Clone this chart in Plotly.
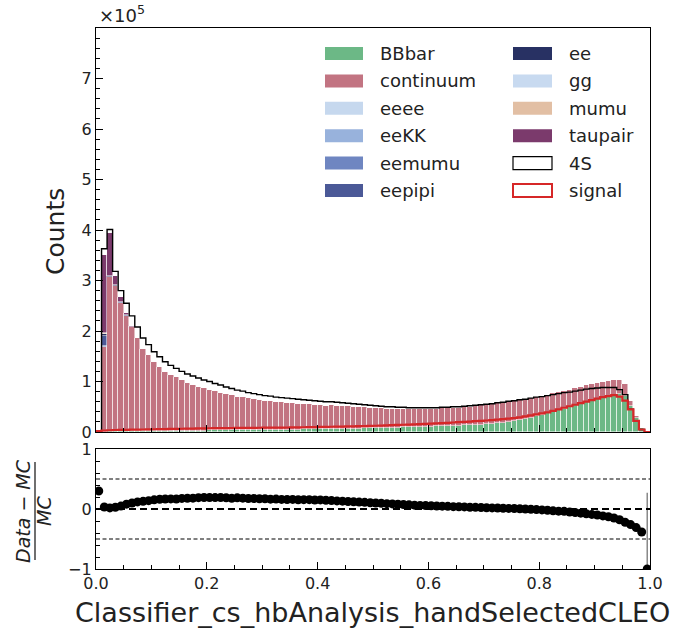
import plotly.graph_objects as go

# ---------------- data (counts in units of 1e5) ----------------
n_bins = 100
x_lo, x_hi = 0.0, 1.0

data_4S = [
    0.026, 3.63, 4.01, 3.18, 2.80, 2.55, 2.30, 2.08, 1.86, 1.73,
    1.59, 1.49, 1.39, 1.32, 1.26, 1.20, 1.15, 1.11, 1.07, 1.03,
    1.00, 0.96, 0.93, 0.89, 0.86, 0.83, 0.81, 0.78, 0.76, 0.74,
    0.72, 0.71, 0.69, 0.68, 0.67, 0.66, 0.65, 0.64, 0.63, 0.62,
    0.61, 0.60, 0.60, 0.59, 0.58, 0.57, 0.56, 0.55, 0.54, 0.53,
    0.52, 0.51, 0.50, 0.50, 0.49, 0.49, 0.48, 0.48, 0.48, 0.48,
    0.48, 0.48, 0.49, 0.49, 0.50, 0.50, 0.51, 0.52, 0.53, 0.54,
    0.55, 0.56, 0.58, 0.59, 0.61, 0.62, 0.64, 0.65, 0.67, 0.69,
    0.70, 0.72, 0.74, 0.76, 0.78, 0.79, 0.81, 0.83, 0.85, 0.86,
    0.87, 0.88, 0.88, 0.88, 0.84, 0.74, 0.45, 0.22, 0.05, 0.0,
]

bbbar = [
    0.0, 0.010, 0.012, 0.013, 0.014, 0.015, 0.016, 0.017, 0.018, 0.019,
    0.020, 0.021, 0.022, 0.023, 0.024, 0.025, 0.026, 0.027, 0.028, 0.029,
    0.030, 0.031, 0.032, 0.033, 0.034, 0.035, 0.036, 0.037, 0.038, 0.039,
    0.040, 0.041, 0.042, 0.043, 0.045, 0.046, 0.048, 0.050, 0.051, 0.053,
    0.055, 0.057, 0.059, 0.061, 0.063, 0.065, 0.067, 0.069, 0.071, 0.074,
    0.077, 0.079, 0.082, 0.085, 0.088, 0.091, 0.094, 0.097, 0.100, 0.104,
    0.108, 0.112, 0.116, 0.120, 0.124, 0.128, 0.132, 0.136, 0.140, 0.145,
    0.150, 0.160, 0.170, 0.185, 0.200, 0.220, 0.240, 0.260, 0.280, 0.310,
    0.340, 0.370, 0.400, 0.430, 0.460, 0.500, 0.540, 0.570, 0.600, 0.630,
    0.660, 0.690, 0.710, 0.740, 0.750, 0.720, 0.520, 0.280, 0.070, 0.004,
]

continuum = [
    0.015, 1.67, 3.05, 2.87, 2.546, 2.29, 2.054, 1.843, 1.632, 1.50,
    1.36, 1.26, 1.17, 1.107, 1.056, 0.995, 0.949, 0.913, 0.872, 0.836,
    0.81, 0.776, 0.748, 0.717, 0.696, 0.665, 0.65, 0.627, 0.609, 0.593,
    0.575, 0.569, 0.55, 0.543, 0.533, 0.523, 0.515, 0.504, 0.494, 0.486,
    0.475, 0.467, 0.467, 0.459, 0.45, 0.442, 0.433, 0.424, 0.415, 0.406,
    0.396, 0.387, 0.377, 0.376, 0.366, 0.365, 0.355, 0.354, 0.353, 0.35,
    0.347, 0.345, 0.352, 0.349, 0.357, 0.354, 0.361, 0.369, 0.376, 0.382,
    0.389, 0.39, 0.401, 0.398, 0.404, 0.395, 0.397, 0.39, 0.393, 0.387,
    0.371, 0.365, 0.363, 0.358, 0.352, 0.332, 0.322, 0.322, 0.324, 0.315,
    0.307, 0.304, 0.301, 0.295, 0.274, 0.229, 0.088, 0.039, 0.011, 0.001,
]

eeee = [0.0, 0.003, 0.002, 0.001] + [0.0] * 96
eeKK = [0.0, 0.003, 0.002, 0.001] + [0.0] * 96
eemumu = [0.0, 0.010, 0.003, 0.001] + [0.0] * 96
eepipi = [0.0, 0.200, 0.010, 0.010, 0.005, 0.003] + [0.0] * 94
ee = [0.001, 0.050, 0.005, 0.010, 0.005, 0.002] + [0.0] * 94
gg = [0.0, 0.003, 0.002, 0.001] + [0.0] * 96
mumu = [0.0, 0.005, 0.003, 0.002] + [0.0] * 96
taupair = [0.004, 1.56, 0.85, 0.18, 0.10, 0.05, 0.02] + [0.0] * 93

signal = [
    0.020, 0.030, 0.035, 0.040, 0.042, 0.044, 0.046, 0.048, 0.050, 0.052,
    0.054, 0.056, 0.058, 0.060, 0.062, 0.064, 0.066, 0.068, 0.070, 0.072,
    0.074, 0.076, 0.077, 0.078, 0.079, 0.080, 0.081, 0.082, 0.083, 0.084,
    0.085, 0.086, 0.087, 0.088, 0.089, 0.090, 0.092, 0.094, 0.096, 0.098,
    0.100, 0.102, 0.104, 0.106, 0.108, 0.110, 0.112, 0.115, 0.118, 0.121,
    0.124, 0.128, 0.132, 0.136, 0.140, 0.144, 0.148, 0.152, 0.157, 0.162,
    0.167, 0.172, 0.177, 0.182, 0.188, 0.194, 0.200, 0.207, 0.214, 0.220,
    0.228, 0.236, 0.245, 0.255, 0.265, 0.277, 0.290, 0.310, 0.330, 0.350,
    0.370, 0.390, 0.420, 0.450, 0.480, 0.510, 0.540, 0.570, 0.600, 0.630,
    0.660, 0.690, 0.710, 0.730, 0.700, 0.620, 0.450, 0.220, 0.050, 0.0,
]

# visible uncertainty on ratio (only the last bin's is large enough to see)
ratio_err = [0.0] * 99 + [1.27]

mc_names = ["BBbar", "continuum", "eeee", "eeKK", "eemumu", "eepipi",
            "ee", "gg", "mumu", "taupair"]
mc_values = [bbbar, continuum, eeee, eeKK, eemumu, eepipi, ee, gg, mumu, taupair]
mc_colors = ["#6cb886", "#c27482", "#c6d8ee", "#98b2dc", "#6f86c1", "#4b5997",
             "#283163", "#c8daf0", "#e2bfa4", "#7b3a6c"]

# ---------------- derived ----------------
bw = (x_hi - x_lo) / n_bins
edges = [x_lo + i * bw for i in range(n_bins + 1)]
centers = [x_lo + (i + 0.5) * bw for i in range(n_bins)]
mc_total = [sum(v[i] for v in mc_values) for i in range(n_bins)]
ratio = [(d - m) / m if m > 0 else None for d, m in zip(data_4S, mc_total)]

FONT = "DejaVu Sans"
W, H = 676, 629
ML, MR, MT, MB = 96, 26, 28, 60
PW, PH = W - ML - MR, H - MT - MB


def px(xp):
    return (xp - ML) / PW


def py(yp):
    return (H - MB - yp) / PH


main_bottom = py(432)
ratio_top = py(449)

fig = go.Figure()

for name, vals, col in zip(mc_names, mc_values, mc_colors):
    fig.add_trace(go.Bar(
        x=centers, y=vals, width=bw, name=name,
        marker=dict(color=col, line=dict(color="rgba(255,255,255,0.75)", width=0.7)),
        xaxis="x", yaxis="y", showlegend=False))

fig.add_trace(go.Scatter(
    x=[x_lo] + edges, y=[0] + data_4S + [0], mode="lines", name="4S",
    line=dict(color="black", width=1.4, shape="hv"), xaxis="x", yaxis="y",
    showlegend=False))
fig.add_trace(go.Scatter(
    x=[x_lo] + edges, y=[0] + signal + [0], mode="lines", name="signal",
    line=dict(color="#d62728", width=2.2, shape="hv"), xaxis="x", yaxis="y",
    showlegend=False))

fig.add_trace(go.Scatter(
    x=centers, y=ratio, mode="markers",
    marker=dict(color="black", size=9),
    error_y=dict(type="data", array=ratio_err, arrayminus=[0.0] * n_bins,
                 color="#888888", thickness=1.5, width=0),
    xaxis="x2", yaxis="y2", showlegend=False, cliponaxis=True))

# reference lines in ratio panel
fig.add_shape(type="line", xref="x2 domain", yref="y2", x0=0, x1=1, y0=0, y1=0,
              line=dict(color="black", width=2, dash="7px,4px"))
for yv in (0.5, -0.5):
    fig.add_shape(type="line", xref="x2 domain", yref="y2", x0=0, x1=1, y0=yv, y1=yv,
                  line=dict(color="black", width=1, dash="4px,2.5px"))

axis_common = dict(showline=True, linecolor="black", linewidth=1.3, mirror=True,
                   showgrid=False, zeroline=False, ticks="inside", ticklen=7,
                   tickwidth=1.2, tickcolor="black",
                   tickfont=dict(family=FONT, size=16, color="#222222"))

fig.update_layout(
    width=W, height=H,
    margin=dict(l=ML, r=MR, t=MT, b=MB),
    paper_bgcolor="white", plot_bgcolor="white",
    barmode="stack", bargap=0,
    font=dict(family=FONT, color="#222222"),
    xaxis=dict(domain=[0, 1], range=[x_lo, x_hi], anchor="y", matches="x2",
               showticklabels=False, dtick=0.2,
               minor=dict(dtick=0.05, ticks="inside", ticklen=3.5, tickcolor="black"),
               **axis_common),
    yaxis=dict(domain=[main_bottom, 1], range=[0, 8], anchor="x",
               tickvals=[0, 1, 2, 3, 4, 5, 6, 7],
               minor=dict(dtick=0.2, ticks="inside", ticklen=3.5, tickcolor="black"),
               **axis_common),
    xaxis2=dict(domain=[0, 1], range=[x_lo, x_hi], anchor="y2",
                dtick=0.2, tickformat=".1f",
                minor=dict(dtick=0.05, ticks="inside", ticklen=3.5, tickcolor="black"),
                **axis_common),
    yaxis2=dict(domain=[0, ratio_top], range=[-1, 1], anchor="x2",
                tickvals=[-1, 0, 1],
                minor=dict(dtick=0.2, ticks="inside", ticklen=3.5, tickcolor="black"),
                **axis_common),
)

annotations = []
# x10^5 multiplier
annotations.append(dict(x=px(97), y=py(14), xref="paper", yref="paper",
                        text="×10<sup>5</sup>", showarrow=False, xanchor="left",
                        yanchor="middle", font=dict(family=FONT, size=18, color="#222222")))
# Counts
annotations.append(dict(x=px(55), y=py(232), xref="paper", yref="paper",
                        text="Counts", textangle=-90, showarrow=False,
                        xanchor="center", yanchor="middle",
                        font=dict(family=FONT, size=25, color="#222222")))
# x title
annotations.append(dict(x=px(372), y=py(612), xref="paper", yref="paper",
                        text="Classifier_cs_hbAnalysis_handSelectedCLEO", showarrow=False,
                        xanchor="center", yanchor="middle",
                        font=dict(family=FONT, size=27, color="#222222")))
# ratio y label as fraction
annotations.append(dict(x=px(23), y=py(511), xref="paper", yref="paper",
                        text="<i>Data</i> − <i>MC</i>", textangle=-90, showarrow=False,
                        xanchor="center", yanchor="middle",
                        font=dict(family=FONT, size=19, color="#222222")))
annotations.append(dict(x=px(44), y=py(511), xref="paper", yref="paper",
                        text="<i>MC</i>", textangle=-90, showarrow=False,
                        xanchor="center", yanchor="middle",
                        font=dict(family=FONT, size=19, color="#222222")))
fig.add_shape(type="line", xref="paper", yref="paper", x0=px(35), x1=px(35),
              y0=py(462), y1=py(560), line=dict(color="#222222", width=1.3))

# manual two-column legend
legend_names = ["BBbar", "continuum", "eeee", "eeKK", "eemumu", "eepipi",
                "ee", "gg", "mumu", "taupair", "4S", "signal"]
legend_fill = mc_colors[:6] + mc_colors[6:] + ["white", "white"]
legend_line = [None] * 10 + ["black", "#d62728"]
col_x = [(325, 363, 378), (513, 552, 567)]
row_y0, row_dy = 53.5, 27.4
for k, nm in enumerate(legend_names):
    c = k // 6
    r = k % 6
    x0, x1, tx = col_x[c]
    yc = row_y0 + r * row_dy
    lc = legend_line[k]
    fig.add_shape(type="rect", xref="paper", yref="paper",
                  x0=px(x0), x1=px(x1), y0=py(yc - 6.5), y1=py(yc + 6.5),
                  fillcolor=legend_fill[k],
                  line=dict(color=lc if lc else legend_fill[k],
                            width=(2 if nm == "signal" else 1.2) if lc else 0))
    annotations.append(dict(x=px(tx), y=py(yc), xref="paper", yref="paper",
                            text=nm, showarrow=False, xanchor="left", yanchor="middle",
                            font=dict(family=FONT, size=18, color="#222222")))

fig.update_layout(annotations=annotations)

fig.write_html("out.html")
